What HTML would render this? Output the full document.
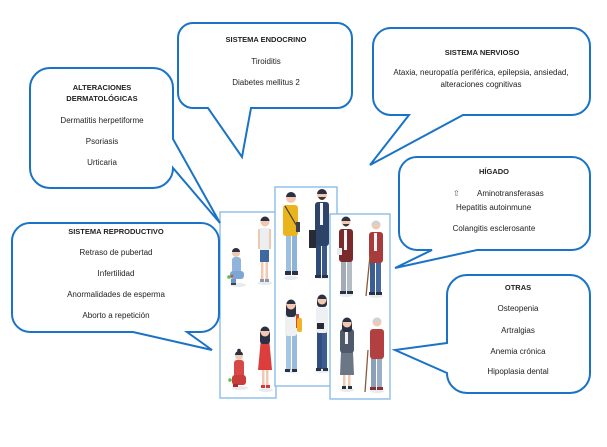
<!DOCTYPE html>
<html>
<head>
<meta charset="utf-8">
<style>
html,body{margin:0;padding:0;background:#fff;}
svg{display:block;}
text{font-family:"Liberation Sans",sans-serif;fill:#222;}
.t{font-size:7.5px;font-weight:bold;}
.r{font-size:8px;}
</style>
</head>
<body>
<svg width="607" height="447" viewBox="0 0 607 447" xmlns="http://www.w3.org/2000/svg">
<rect width="607" height="447" fill="#fff"/>

<!-- people boxes -->
<rect x="220" y="212" width="56" height="186" fill="#fff" stroke="#8cbde8" stroke-width="1.4"/>
<rect x="275" y="187" width="62" height="199" fill="#fff" stroke="#8cbde8" stroke-width="1.4"/>
<rect x="330" y="214" width="60" height="185" fill="#fff" stroke="#8cbde8" stroke-width="1.4"/>

<!-- shadows -->
<g fill="#e6ebf0">
<ellipse cx="238" cy="285" rx="8" ry="2"/>
<ellipse cx="265" cy="283" rx="7" ry="2"/>
<ellipse cx="240" cy="388" rx="8" ry="2"/>
<ellipse cx="266" cy="390" rx="7" ry="2"/>
<ellipse cx="291" cy="278" rx="7" ry="2"/>
<ellipse cx="322" cy="277" rx="7" ry="2"/>
<ellipse cx="291" cy="371" rx="7" ry="2"/>
<ellipse cx="322" cy="371" rx="7" ry="2"/>
<ellipse cx="346" cy="295" rx="7" ry="2"/>
<ellipse cx="376" cy="296" rx="7" ry="2"/>
<ellipse cx="347" cy="390" rx="7" ry="2"/>
<ellipse cx="377" cy="391" rx="7" ry="2"/>
</g>

<!-- 1 baby boy sitting -->
<g>
<rect x="232" y="257" width="9" height="16" rx="3" fill="#8fb5dd"/>
<rect x="230" y="271" width="14" height="8" rx="3" fill="#7fa6d2"/>
<rect x="231" y="279" width="5" height="5" fill="#6d95c4"/>
<rect x="231" y="283" width="5" height="2" fill="#3a4456"/>
<circle cx="236" cy="253" r="4" fill="#f2c9b0"/>
<path d="M232,252 a4,4 0 0 1 8,0 z" fill="#2a3142"/>
<circle cx="229" cy="277" r="1.8" fill="#5cbf3a"/>
<circle cx="232" cy="276" r="1.3" fill="#d94848"/>
</g>

<!-- 2 boy -->
<g>
<rect x="258" y="229" width="2.5" height="20" fill="#f2c9b0"/>
<rect x="268.5" y="229" width="2.5" height="20" fill="#f2c9b0"/>
<rect x="260" y="228" width="9" height="23" fill="#eceff2"/>
<rect x="260" y="250" width="9" height="12" fill="#3e6aa0"/>
<rect x="261" y="262" width="2.5" height="18" fill="#f2c9b0"/>
<rect x="265.5" y="262" width="2.5" height="18" fill="#f2c9b0"/>
<rect x="260" y="279" width="4" height="3" fill="#8a97a5"/>
<rect x="265" y="279" width="4" height="3" fill="#8a97a5"/>
<circle cx="265" cy="222" r="4.5" fill="#f2c9b0"/>
<path d="M260.5,221 a4.5,4.5 0 0 1 9,0 z" fill="#2a3142"/>
</g>

<!-- 3 baby girl red sitting -->
<g>
<rect x="234" y="360" width="10" height="18" rx="3" fill="#d94848"/>
<rect x="232" y="375" width="14" height="10" rx="3" fill="#c93c3c"/>
<rect x="233" y="384" width="5" height="3" fill="#b02a2a"/>
<circle cx="239" cy="356" r="4" fill="#f2c9b0"/>
<path d="M235,355 a4,4 0 0 1 8,0 z" fill="#2a3142"/>
<circle cx="239" cy="350.5" r="1.8" fill="#2a3142"/>
<circle cx="230" cy="380" r="1.8" fill="#5cbf3a"/>
</g>

<!-- 4 girl red dress -->
<g>
<rect x="262" y="368" width="2.5" height="18" fill="#f2c9b0"/>
<rect x="266" y="368" width="2.5" height="18" fill="#f2c9b0"/>
<rect x="261" y="385" width="4" height="3" fill="#d33a3a"/>
<rect x="266" y="385" width="4" height="3" fill="#d33a3a"/>
<path d="M261,338 L269,338 L272,370 L258,370 Z" fill="#dc3d3d"/>
<rect x="260" y="330" width="10" height="14" rx="3" fill="#2a3142"/>
<circle cx="265" cy="332" r="4.5" fill="#f2c9b0"/>
<path d="M260.5,331 a4.5,4.5 0 0 1 9,0 z" fill="#2a3142"/>
</g>

<!-- 5 man yellow sweater -->
<g>
<rect x="286" y="234" width="5" height="38" fill="#9ec0de"/>
<rect x="292" y="234" width="5" height="38" fill="#8db3d6"/>
<rect x="285" y="271" width="6" height="4" fill="#2a3142"/>
<rect x="292" y="271" width="6" height="4" fill="#2a3142"/>
<rect x="283" y="205" width="15" height="31" rx="3" fill="#e9b41c"/>
<path d="M285,206 L298,228" stroke="#3a3a3a" stroke-width="1.2"/>
<rect x="296" y="222" width="4" height="10" fill="#3a4050"/>
<circle cx="291" cy="198" r="5" fill="#f2c9b0"/>
<path d="M286,197 a5,5 0 0 1 10,0 z" fill="#2a3142"/>
</g>

<!-- 6 man suit -->
<g>
<rect x="316" y="244" width="5" height="32" fill="#2f4a78"/>
<rect x="322" y="244" width="5" height="32" fill="#3a5788"/>
<rect x="315" y="275" width="6" height="3" fill="#2a3142"/>
<rect x="322" y="275" width="6" height="3" fill="#2a3142"/>
<rect x="315" y="202" width="14" height="44" rx="3" fill="#2d4468"/>
<rect x="320" y="203" width="3" height="22" fill="#f4f6f8"/>
<rect x="309" y="230" width="7" height="18" fill="#262b36"/>
<circle cx="322" cy="195" r="5" fill="#f2c9b0"/>
<path d="M317,194 a5,5 0 0 1 10,0 z" fill="#2a3142"/>
<path d="M318,197 q4,6 8,0 z" fill="#3a3a3a"/>
</g>

<!-- 7 woman backpack -->
<g>
<rect x="286" y="334" width="5" height="36" fill="#a7c6e2"/>
<rect x="292" y="334" width="5" height="36" fill="#98bbdc"/>
<rect x="285" y="369" width="5" height="3" fill="#2a3142"/>
<rect x="292" y="369" width="5" height="3" fill="#2a3142"/>
<rect x="285" y="310" width="12" height="26" rx="3" fill="#eef0f2"/>
<rect x="296" y="314" width="3" height="14" fill="#d9482f"/>
<rect x="297" y="318" width="5" height="14" rx="2" fill="#f0b429"/>
<rect x="286" y="303" width="10" height="14" rx="3" fill="#2a3142"/>
<circle cx="291" cy="305" r="4.5" fill="#f2c9b0"/>
<path d="M286.5,304 a4.5,4.5 0 0 1 9,0 z" fill="#2a3142"/>
</g>

<!-- 8 woman white shirt -->
<g>
<rect x="317" y="331" width="5" height="38" fill="#304f80"/>
<rect x="322" y="331" width="5" height="38" fill="#3b5d92"/>
<rect x="316" y="368" width="5" height="3" fill="#2a3142"/>
<rect x="323" y="368" width="5" height="3" fill="#2a3142"/>
<rect x="316" y="307" width="12" height="26" rx="3" fill="#eef0f3"/>
<rect x="317" y="323" width="7" height="6" fill="#262b36"/>
<rect x="317" y="297" width="10" height="10" rx="3" fill="#2a3142"/>
<circle cx="322" cy="300" r="4.5" fill="#f2c9b0"/>
<path d="M317.5,299 a4.5,4.5 0 0 1 9,0 z" fill="#2a3142"/>
</g>

<!-- 9 man dark red jacket -->
<g>
<rect x="341" y="261" width="5" height="31" fill="#a3acb5"/>
<rect x="347" y="261" width="5" height="31" fill="#b4bcc4"/>
<rect x="340" y="291" width="6" height="3" fill="#2a3142"/>
<rect x="347" y="291" width="6" height="3" fill="#2a3142"/>
<rect x="339" y="229" width="14" height="33" rx="3" fill="#7a2a2a"/>
<rect x="344" y="230" width="3" height="20" fill="#f4f6f8"/>
<rect x="337" y="248" width="5" height="7" fill="#e8ecef"/>
<circle cx="346" cy="222" r="4.5" fill="#f2c9b0"/>
<path d="M341.5,221 a4.5,4.5 0 0 1 9,0 z" fill="#2a3142"/>
<path d="M342.5,224 q3.5,5 7,0 z" fill="#3a3a3a"/>
</g>

<!-- 10 old man with cane -->
<g>
<rect x="370" y="261" width="5" height="32" fill="#3b5e91"/>
<rect x="376" y="261" width="5" height="32" fill="#466aa0"/>
<rect x="369" y="292" width="6" height="3" fill="#2a3142"/>
<rect x="376" y="292" width="6" height="3" fill="#2a3142"/>
<rect x="369" y="232" width="14" height="31" rx="3" fill="#a83b3b"/>
<rect x="374" y="233" width="3" height="18" fill="#f4f6f8"/>
<path d="M370,256 L366,296" stroke="#8a5a3a" stroke-width="1.3"/>
<circle cx="376" cy="225" r="4.5" fill="#f2c9b0"/>
<path d="M371.5,225 a4.5,4.5 0 0 1 9,0 z" fill="#cfd2d6"/>
</g>

<!-- 11 woman grey blazer -->
<g>
<rect x="343" y="373" width="2.5" height="14" fill="#f2c9b0"/>
<rect x="348" y="373" width="2.5" height="14" fill="#f2c9b0"/>
<rect x="342" y="386" width="4" height="3" fill="#2a3142"/>
<rect x="348" y="386" width="4" height="3" fill="#2a3142"/>
<path d="M341,352 L353,352 L354,375 L340,375 Z" fill="#6b7785"/>
<rect x="340" y="329" width="14" height="24" rx="3" fill="#4e5a6a"/>
<rect x="345" y="330" width="3" height="14" fill="#f0f0f0"/>
<rect x="342" y="320" width="10" height="12" rx="3" fill="#2a3142"/>
<circle cx="347" cy="323" r="4.5" fill="#f2c9b0"/>
<path d="M342.5,322 a4.5,4.5 0 0 1 9,0 z" fill="#2a3142"/>
</g>

<!-- 12 old woman -->
<g>
<rect x="371" y="357" width="5" height="31" fill="#8aa0b8"/>
<rect x="377" y="357" width="5" height="31" fill="#9aaec4"/>
<rect x="370" y="387" width="6" height="3" fill="#8a3030"/>
<rect x="377" y="387" width="6" height="3" fill="#8a3030"/>
<rect x="370" y="329" width="14" height="30" rx="3" fill="#b34040"/>
<path d="M368,350 L365,392" stroke="#8a5a3a" stroke-width="1.3"/>
<circle cx="377" cy="322" r="4.5" fill="#f2c9b0"/>
<path d="M372.5,322 a4.5,4.5 0 0 1 9,0 z" fill="#cfd2d6"/>
</g>

<!-- speech bubbles -->
<g fill="#fff" stroke="#1a73c6" stroke-width="2" stroke-linejoin="miter">
<path d="M50,68 H153 A20,20 0 0 1 173,88 V139 L220,223 L173,168 A20,20 0 0 1 153,188 H50 A20,20 0 0 1 30,168 V88 A20,20 0 0 1 50,68 Z"/>
<path d="M193,23 H337 A15,15 0 0 1 352,38 V93 A15,15 0 0 1 337,108 H251 L242,157 L208,108 H193 A15,15 0 0 1 178,93 V38 A15,15 0 0 1 193,23 Z"/>
<path d="M391,28 H572 A18,18 0 0 1 590,46 V97 A18,18 0 0 1 572,115 H463 L370,165 L409,115 H391 A18,18 0 0 1 373,97 V46 A18,18 0 0 1 391,28 Z"/>
<path d="M417,157 H572 A18,18 0 0 1 590,175 V232 A18,18 0 0 1 572,250 H477 L395,268 L432,250 H417 A18,18 0 0 1 399,232 V175 A18,18 0 0 1 417,157 Z"/>
<path d="M30,223 H201 A18,18 0 0 1 219,241 V314 A18,18 0 0 1 201,332 H187 L212,350 L133,332 H30 A18,18 0 0 1 12,314 V241 A18,18 0 0 1 30,223 Z"/>
<path d="M467,275 H570 A20,20 0 0 1 590,295 V373 A20,20 0 0 1 570,393 H467 A20,20 0 0 1 447,373 L395,350 L447,343 V295 A20,20 0 0 1 467,275 Z"/>
</g>

<!-- texts -->
<g text-anchor="middle">
<text class="t" x="102" y="90">ALTERACIONES</text>
<text class="t" x="102" y="101">DERMATOLÓGICAS</text>
<text class="r" x="102" y="123">Dermatitis herpetiforme</text>
<text class="r" x="102" y="144">Psoriasis</text>
<text class="r" x="102" y="165">Urticaria</text>

<text class="t" x="266" y="42">SISTEMA ENDOCRINO</text>
<text class="r" x="266" y="64">Tiroiditis</text>
<text class="r" x="266" y="85">Diabetes mellitus 2</text>

<text class="t" x="482" y="55">SISTEMA NERVIOSO</text>
<text class="r" x="481" y="75">Ataxia, neuropatía periférica, epilepsia, ansiedad,</text>
<text class="r" x="481" y="87">alteraciones cognitivas</text>

<text class="t" x="494" y="174">HÍGADO</text>
<text class="r" x="494" y="231">Colangitis esclerosante</text>

<text class="t" x="116" y="234">SISTEMA REPRODUCTIVO</text>
<text class="r" x="116" y="255">Retraso de pubertad</text>
<text class="r" x="116" y="276">Infertilidad</text>
<text class="r" x="116" y="297">Anormalidades de esperma</text>
<text class="r" x="116" y="318">Aborto a repetición</text>

<text class="t" x="518" y="290">OTRAS</text>
<text class="r" x="518" y="311">Osteopenia</text>
<text class="r" x="518" y="333">Artralgias</text>
<text class="r" x="518" y="354">Anemia crónica</text>
<text class="r" x="518" y="374">Hipoplasia dental</text>
</g>
<text class="r" x="453" y="196" style="fill:#555">⇧</text>
<text class="r" x="477" y="196">Aminotransferasas</text>
<text class="r" x="456" y="210">Hepatitis autoinmune</text>
</svg>
</body>
</html>
